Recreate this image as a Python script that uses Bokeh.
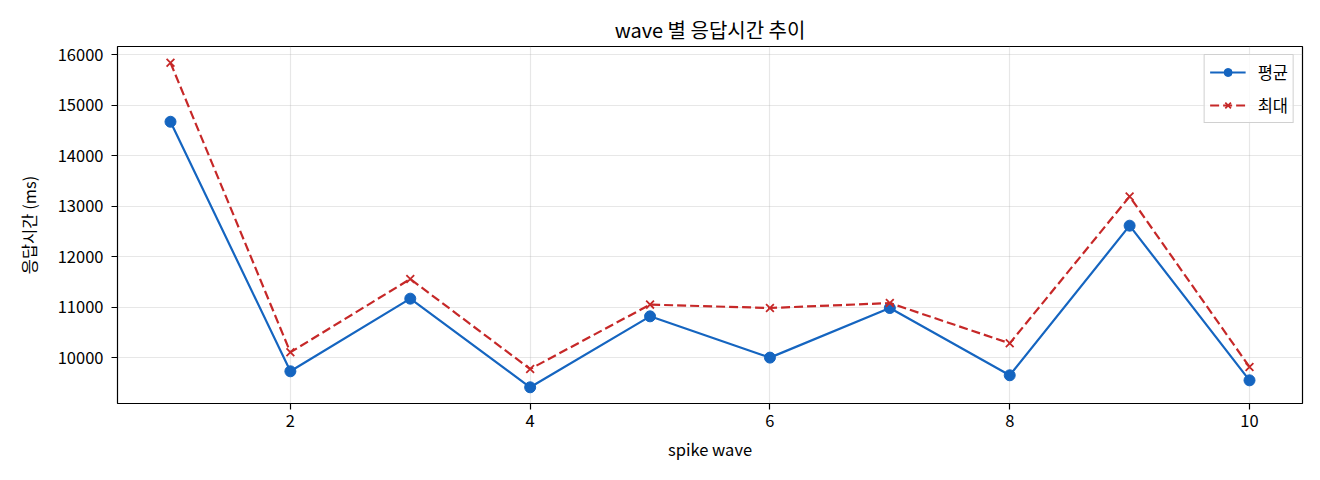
from bokeh.plotting import figure
from bokeh.models import FixedTicker, Range1d, Legend, LegendItem
from bokeh.embed import file_html
from bokeh.resources import INLINE

waves = [1, 2, 3, 4, 5, 6, 7, 8, 9, 10]
avg_ms = [14673, 9729, 11168, 9412, 10818, 10000, 10983, 9650, 12614, 9550]
max_ms = [15842, 10105, 11557, 9774, 11050, 10983, 11081, 10283, 13192, 9814]
x_ticks = [2, 4, 6, 8, 10]
y_ticks = [10000, 11000, 12000, 13000, 14000, 15000, 16000]

FONT = "Noto Sans CJK KR"
BLUE = "#1565C0"
RED = "#C62828"
FS = "16.5px"

p = figure(width=1320, height=480, output_backend="svg", toolbar_location=None,
           x_range=Range1d(0.558, 10.442), y_range=Range1d(9091, 16164),
           min_border_left=117, min_border_right=18, min_border_top=46, min_border_bottom=77)

p.title.text = "wave 별 응답시간 추이"
p.title.align = "center"
p.title.text_font = FONT
p.title.text_font_size = "20px"
p.title.text_font_style = "normal"
p.title.text_color = "black"
p.title.standoff = 6

p.outline_line_color = "black"
p.outline_line_width = 1.2
p.outline_line_alpha = 1

for ax in (p.xaxis, p.yaxis):
    ax.axis_line_color = None
    ax.major_tick_line_color = "black"
    ax.major_tick_line_width = 1.2
    ax.major_tick_out = 6
    ax.major_tick_in = 0
    ax.minor_tick_line_color = None
    ax.major_label_text_font = FONT
    ax.major_label_text_font_size = FS
    ax.major_label_text_color = "black"
    ax.axis_label_text_font = FONT
    ax.axis_label_text_font_size = FS
    ax.axis_label_text_font_style = "normal"
    ax.axis_label_text_color = "black"

p.xaxis.ticker = FixedTicker(ticks=x_ticks)
p.yaxis.ticker = FixedTicker(ticks=y_ticks)
p.xaxis.axis_label = "spike wave"
p.yaxis.axis_label = "응답시간 (ms)"
p.xaxis.major_label_standoff = 5
p.yaxis.major_label_standoff = 8
p.xaxis.axis_label_standoff = 7
p.yaxis.axis_label_standoff = 14

p.xgrid.grid_line_color = "#b0b0b0"
p.ygrid.grid_line_color = "#b0b0b0"
p.xgrid.grid_line_alpha = 0.3
p.ygrid.grid_line_alpha = 0.3
p.xgrid.grid_line_width = 1.2
p.ygrid.grid_line_width = 1.2

l1 = p.line(waves, avg_ms, line_color=BLUE, line_width=2.2)
m1 = p.scatter(waves, avg_ms, marker="circle", size=11, fill_color=BLUE, line_color=BLUE)
l2 = p.line(waves, max_ms, line_color=RED, line_width=2.2, line_dash="9 4")
m2 = p.scatter(waves, max_ms, marker="x", size=11, line_color=RED, line_width=1.8)

legend = Legend(items=[LegendItem(label="평균", renderers=[l1, m1]),
                       LegendItem(label="최대", renderers=[l2, m2])],
                location="top_right")
legend.label_text_font = FONT
legend.label_text_font_size = FS
legend.label_text_color = "black"
legend.border_line_color = "#d0d0d0"
legend.border_line_alpha = 1
legend.background_fill_alpha = 0.8
legend.glyph_width = 36
legend.glyph_height = 20
legend.label_standoff = 12
legend.label_height = 20
legend.spacing = 9
legend.padding = 5
legend.margin = 8
p.add_layout(legend)

open("out.html", "w").write(file_html(p, INLINE))
